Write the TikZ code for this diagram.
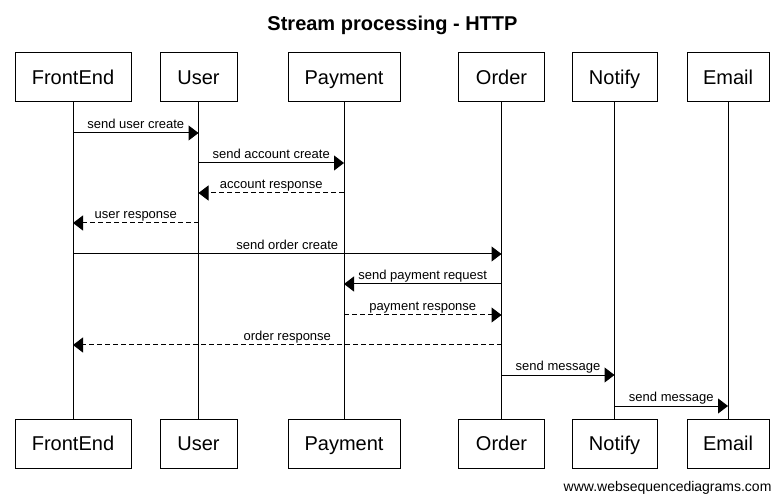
\documentclass[tikz,border=0pt]{standalone}
\usepackage{fontspec}
\setmainfont{Liberation Sans}
\usetikzlibrary{arrows.meta}

\begin{document}
\begin{tikzpicture}[x=1pt,y=-1pt,
    actor/.style={draw,line width=1pt,minimum width=#1,minimum height=49pt,inner sep=0pt,text height=14pt,text depth=0pt,font=\fontsize{20}{24}\selectfont},
    life/.style={line width=1pt},
    msg/.style={line width=1pt,-{Triangle[length=10pt,width=15pt]}},
    reply/.style={msg,dash pattern=on 5pt off 3pt},
    lbl/.style={above,inner sep=0pt,yshift=4pt,text depth=0pt,font=\fontsize{13}{15}\selectfont}]
  \useasboundingbox (0,0) rectangle (784,502);

  \node[anchor=base,font=\bfseries\fontsize{20}{24}\selectfont] (title) at (392.5,31) {Stream processing - HTTP};

  \node[actor=116pt] (fe) at (73,77.5) {FrontEnd};
  \node[actor=77pt] (user) at (198.5,77.5) {User};
  \node[actor=112pt] (pay) at (344,77.5) {Payment};
  \node[actor=86pt] (order) at (501.5,77.5) {Order};
  \node[actor=85pt] (notify) at (614.5,77.5) {Notify};
  \node[actor=82pt] (email) at (728,77.5) {Email};

  \node[actor=116pt] (fe2) at (73,443.5) {FrontEnd};
  \node[actor=77pt] (user2) at (198.5,443.5) {User};
  \node[actor=112pt] (pay2) at (344,443.5) {Payment};
  \node[actor=86pt] (order2) at (501.5,443.5) {Order};
  \node[actor=85pt] (notify2) at (614.5,443.5) {Notify};
  \node[actor=82pt] (email2) at (728,443.5) {Email};

  \draw[life] (fe.south) -- (fe2.north);
  \draw[life] (user.south) -- (user2.north);
  \draw[life] (pay.south) -- (pay2.north);
  \draw[life] (order.south) -- (order2.north);
  \draw[life] (notify.south) -- (notify2.north);
  \draw[life] (email.south) -- (email2.north);

  \draw[msg] (fe |- 0,133) -- node[lbl] {send user create} (user |- 0,133);
  \draw[msg] (user |- 0,163) -- node[lbl] {send account create} (pay |- 0,163);
  \draw[reply] (pay |- 0,193) -- node[lbl] {account response} (user |- 0,193);
  \draw[reply] (user |- 0,223) -- node[lbl] {user response} (fe |- 0,223);
  \draw[msg] (fe |- 0,254) -- node[lbl] {send order create} (order |- 0,254);
  \draw[msg] (order |- 0,284) -- node[lbl] {send payment request} (pay |- 0,284);
  \draw[reply] (pay |- 0,315) -- node[lbl] {payment response} (order |- 0,315);
  \draw[reply] (order |- 0,345) -- node[lbl] {order response} (fe |- 0,345);
  \draw[msg] (order |- 0,375) -- node[lbl] {send message} (notify |- 0,375);
  \draw[msg] (notify |- 0,406) -- node[lbl] {send message} (email |- 0,406);

  \node[anchor=base east,font=\fontsize{14}{16}\selectfont] (credit) at (775,491) {www.websequencediagrams.com};
\end{tikzpicture}
\end{document}
